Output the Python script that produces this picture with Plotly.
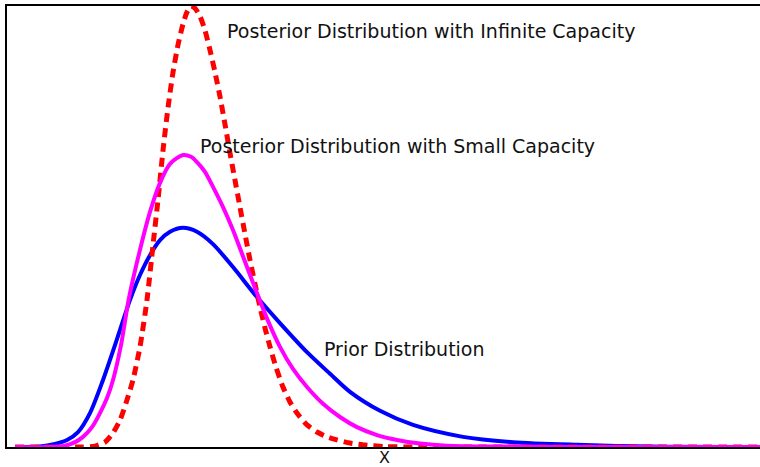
import plotly.graph_objects as go

# Values (x: 0-10 abstract units, y: density scaled to 0-1)
prior_x = [0.106, 0.438, 0.637, 0.797, 0.943, 1.102, 1.275, 1.434, 1.633, 1.766, 1.899, 2.032,
           2.165, 2.337, 2.523, 2.736, 3.001, 3.320, 3.625, 3.984, 4.290, 4.555, 4.954, 5.392,
           6.056, 6.720, 7.570, 8.539, 10.0]
prior_y = [0.0, 0.001, 0.007, 0.016, 0.034, 0.077, 0.152, 0.231, 0.333, 0.390, 0.435, 0.469,
           0.488, 0.497, 0.488, 0.460, 0.408, 0.340, 0.281, 0.215, 0.166, 0.125, 0.082, 0.050,
           0.023, 0.011, 0.005, 0.001, 0.0]

small_x = [0.106, 0.571, 0.770, 0.903, 1.009, 1.129, 1.235, 1.328, 1.408, 1.514, 1.620, 1.766,
           1.899, 2.032, 2.165, 2.337, 2.444, 2.523, 2.629, 2.736, 2.869, 3.001, 3.161,
           3.320, 3.466, 3.625, 3.798, 3.984, 4.197, 4.422, 4.648, 4.914, 5.179, 5.485, 5.843,
           6.547, 7.875, 10.0]
small_y = [0.0, 0.0, 0.003, 0.011, 0.023, 0.045, 0.077, 0.111, 0.152, 0.231, 0.338, 0.447,
           0.533, 0.599, 0.642, 0.662, 0.658, 0.646, 0.624, 0.590, 0.544, 0.492, 0.420,
           0.349, 0.286, 0.227, 0.177, 0.136, 0.098, 0.068, 0.045, 0.027, 0.016, 0.008, 0.003,
           0.001, 0.0, 0.0]

inf_x = [0.106, 1.009, 1.169, 1.301, 1.408, 1.501, 1.594, 1.673, 1.766, 1.859, 1.939, 2.005,
         2.072, 2.138, 2.205, 2.271, 2.337, 2.390, 2.444, 2.497, 2.563, 2.629, 2.696, 2.762,
         2.829, 2.895, 2.961, 3.028, 3.094, 3.161, 3.227, 3.293, 3.360, 3.426, 3.493, 3.572,
         3.665, 3.758, 3.851, 3.984, 4.117, 4.250, 4.382, 4.555, 4.728, 5.020, 5.392, 10.0]
inf_y = [0.0, 0.0, 0.002, 0.011, 0.032, 0.061, 0.107, 0.152, 0.227, 0.333, 0.458, 0.560,
         0.673, 0.769, 0.850, 0.912, 0.959, 0.986, 1.0, 0.995, 0.977, 0.945, 0.900, 0.850,
         0.794, 0.732, 0.667, 0.605, 0.544, 0.483, 0.424, 0.370, 0.317, 0.270, 0.227, 0.181,
         0.136, 0.102, 0.077, 0.050, 0.034, 0.023, 0.016, 0.009, 0.005, 0.001, 0.0, 0.0]

labels = ["Prior Distribution",
          "Posterior Distribution with Small Capacity",
          "Posterior Distribution with Infinite Capacity"]
x_label = "X"

W, H = 760, 467
L, R, T, B = 7, 0, 6, 20

fig = go.Figure()
fig.add_trace(go.Scatter(x=prior_x, y=prior_y, mode="lines",
                         line=dict(color="#0000FF", width=4, shape="spline", smoothing=0.8),
                         name=labels[0]))
fig.add_trace(go.Scatter(x=inf_x, y=inf_y, mode="lines",
                         line=dict(color="#FF0000", width=5, dash="9px,6px", shape="spline", smoothing=0.6),
                         name=labels[2]))
fig.add_trace(go.Scatter(x=small_x, y=small_y, mode="lines",
                         line=dict(color="#FF00FF", width=4, shape="spline", smoothing=0.8),
                         name=labels[1]))

def px2paper(px, py):
    return (px - L) / (W - L - R), (H - B - py) / (H - T - B)

font = dict(family="DejaVu Sans", size=19, color="#111111")
for text, (px, py) in zip(labels, [(322, 349), (198, 146), (225, 31)]):
    ax, ay = px2paper(px, py)
    fig.add_annotation(text=text, x=ax, y=ay, xref="paper", yref="paper",
                       xanchor="left", yanchor="middle", showarrow=False, font=font)

xx, xy = px2paper(384, 457)
fig.add_annotation(text=x_label, x=xx, y=xy, xref="paper", yref="paper",
                   xanchor="center", yanchor="middle", showarrow=False, borderpad=0,
                   font=dict(family="DejaVu Sans", size=16, color="#111111"))

fig.update_layout(
    width=W, height=H,
    margin=dict(l=L, r=R, t=T, b=B),
    paper_bgcolor="white", plot_bgcolor="white",
    showlegend=False,
    xaxis=dict(range=[0, 10], showgrid=False, zeroline=False, showticklabels=False,
               ticks="", showline=True, linecolor="black", linewidth=2, mirror=True),
    yaxis=dict(range=[0, 1.0], showgrid=False, zeroline=False, showticklabels=False,
               ticks="", showline=True, linecolor="black", linewidth=2),
)

fig.write_html("out.html")
